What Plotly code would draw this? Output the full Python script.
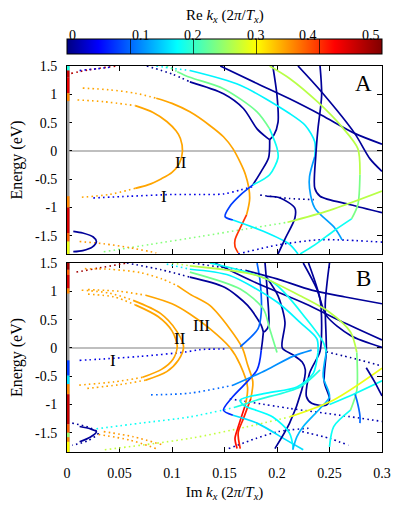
import plotly.graph_objects as go
from plotly.colors import sample_colorscale

# colour = Re k_x (2pi/Tx), 0 .. 0.5 on a jet scale
REK_MAX = 0.5
cbar_ticks = [0, 0.1, 0.2, 0.3, 0.4, 0.5]
x_ticks = [0, 0.05, 0.1, 0.15, 0.2, 0.25, 0.3]
e_ticks = [-1.5, -1, -0.5, 0, 0.5, 1, 1.5]
e_tick_text = ["-1.5", "-1", "-0.5", "0", "0.5", "1", "1.5"]

# real bands on the Im k = 0 axis: (E top, E bottom, Re k)
a_real = [(1.5, 1.42, 0.19), (1.42, 1.3, 0.46), (1.3, 1.02, 0.44), (1.02, 0.88, 0.36),
          (-0.8, -1.0, 0.36), (-1.0, -1.45, 0.45), (-1.45, -1.6, 0.38), (-1.6, -1.82, 0.29)]
b_real = [(1.5, 1.38, 0.48), (1.38, 1.29, 0.38), (1.29, 1.05, 0.45), (1.05, 0.96, 0.36),
          (-0.22, -0.49, 0.08), (-0.49, -0.64, 0.16), (-0.64, -0.82, 0.36), (-0.82, -1.35, 0.46),
          (-1.35, -1.5, 0.38), (-1.5, -1.58, 0.25), (-1.58, -1.66, 0.36), (-1.66, -1.84, 0.3)]

# complex bands: (Re k, Im k list, E list)
# panel A, solid
a_or_outer = (0.344, [0.085, 0.1, 0.117, 0.136, 0.149, 0.158, 0.17, 0.174, 0.171], [0.93, 0.84, 0.69, 0.45, 0.25, 0.04, -0.42, -0.83, -1.13])
a_or_outer_red = (0.4, [0.171, 0.165, 0.16, 0.16, 0.163], [-1.13, -1.36, -1.57, -1.69, -1.8])
a_or_II = (0.344, [0.065, 0.082, 0.095, 0.104, 0.108, 0.11, 0.107, 0.1, 0.09, 0.077, 0.065], [0.8, 0.68, 0.52, 0.35, 0.22, 0.0, -0.22, -0.38, -0.49, -0.6, -0.66])
a_n1 = (0.01, [0.117, 0.149, 0.168, 0.181, 0.19, 0.193], [1.22, 1.01, 0.75, 0.39, 0.24, 0.2])
a_n1_low = (0.01, [0.193, 0.192, 0.185, 0.177], [0.2, -0.12, -0.36, -0.6])
a_n2 = (0.01, [0.196, 0.2, 0.201, 0.197, 0.193], [1.5, 0.98, 0.51, 0.28, 0.2])
a_c1 = (0.17, [0.117, 0.165, 0.212, 0.227, 0.236, 0.236], [1.42, 1.16, 0.66, 0.45, 0.16, -0.1])
a_c1_low = (0.128, [0.236, 0.231, 0.231, 0.236, 0.255, 0.262], [-0.1, -0.45, -0.66, -1.01, -1.36, -1.57])
a_g2 = (0.23, [0.105, 0.117, 0.149, 0.181, 0.193], [1.4, 1.3, 1.1, 0.69, 0.39])
a_g2_low = (0.18, [0.193, 0.2, 0.201, 0.193, 0.177], [0.39, 0.05, -0.12, -0.42, -0.6])
a_hook = (0.08, [0.177, 0.165, 0.155, 0.1505, 0.158], [-0.6, -0.78, -0.98, -1.16, -1.22])
a_hook_tail = (0.17, [0.158, 0.187, 0.212, 0.22], [-1.22, -1.42, -1.65, -1.82])
a_n3 = (0.01, [0.146, 0.181, 0.212, 0.2425, 0.274, 0.3], [1.5, 1.19, 0.92, 0.63, 0.31, 0.12])
a_n5 = (0.01, [0.22, 0.2425, 0.274, 0.2886, 0.3], [1.5, 1.04, 0.31, -0.14, -0.36])
a_n4 = (0.01, [0.241, 0.2425, 0.239, 0.237, 0.236, 0.241, 0.27, 0.3], [1.5, 0.98, 0.39, -0.07, -0.66, -0.8, -0.95, -1.09])
a_g1 = (0.265, [0.193, 0.212, 0.239, 0.262, 0.277, 0.279], [1.5, 1.28, 0.86, 0.42, 0.04, -0.42])
a_g1_mid = (0.235, [0.279, 0.277, 0.271], [-0.42, -0.95, -1.2])
a_g1_low = (0.18, [0.271, 0.255, 0.236, 0.222], [-1.2, -1.4, -1.66, -1.82])
a_n6 = (0.01, [0.19, 0.203, 0.217, 0.217, 0.208, 0.201], [-0.8, -0.83, -1.01, -1.19, -1.54, -1.82])
a_g3 = (0.265, [0.21, 0.25, 0.3], [-1.26, -1.05, -0.71])
a_loop = (0.01, [0.006, 0.015, 0.025, 0.028, 0.024, 0.015, 0.006], [-1.42, -1.45, -1.52, -1.6, -1.7, -1.76, -1.78])

# panel A, dotted
a_red_top = (0.47, [0.004, 0.02, 0.047], [1.37, 1.43, 1.5])
a_blue_top = (0.04, [0.012, 0.028, 0.042], [1.42, 1.45, 1.48])
a_n1_dot = (0.01, [0.076, 0.1, 0.117], [1.5, 1.36, 1.22])
a_c1_dot = (0.17, [0.085, 0.1, 0.117], [1.5, 1.46, 1.42])
a_g2_dot = (0.23, [0.095, 0.105], [1.5, 1.4])
a_or_outer_dot = (0.344, [0.015, 0.04, 0.065, 0.085], [1.11, 1.08, 1.02, 0.93])
a_or_II_top = (0.344, [0.01, 0.035, 0.065], [0.9, 0.87, 0.8])
a_or_II_bot = (0.344, [0.065, 0.04, 0.012], [-0.66, -0.77, -0.82])
a_line_I = (0.04, [0.025, 0.06, 0.1, 0.127, 0.149, 0.165, 0.177], [-0.83, -0.8, -0.77, -0.77, -0.76, -0.69, -0.63])
a_n4_dot = (0.01, [0.184, 0.212, 0.235], [-0.78, -0.84, -0.86])
a_bottom = (0.03, [0.163, 0.201, 0.239, 0.258, 0.3], [-1.82, -1.66, -1.57, -1.57, -1.61])
a_g3_dot = (0.24, [0.035, 0.08, 0.127, 0.17, 0.21], [-1.78, -1.65, -1.51, -1.38, -1.26])
a_or_low = (0.35, [0.012, 0.035, 0.06, 0.085], [-1.6, -1.64, -1.71, -1.8])

# panel B, solid
b_or_outer = (0.344, [0.105, 0.117, 0.136, 0.155, 0.167, 0.172, 0.177, 0.175], [1.1, 0.95, 0.75, 0.34, 0.0, -0.3, -0.6, -0.9])
b_or_outer_red = (0.41, [0.175, 0.168, 0.163, 0.165], [-0.9, -1.25, -1.5, -1.78])
b_or_III = (0.344, [0.075, 0.1, 0.117, 0.136, 0.155, 0.165, 0.172, 0.17], [0.93, 0.78, 0.6, 0.34, 0.01, -0.3, -0.7, -1.0])
b_or_III_red = (0.42, [0.17, 0.163, 0.16, 0.162], [-1.0, -1.4, -1.6, -1.78])
b_or_II1 = (0.344, [0.063, 0.089, 0.104, 0.111, 0.106, 0.095, 0.075], [0.84, 0.61, 0.31, 0.02, -0.22, -0.42, -0.57])
b_or_II2 = (0.344, [0.065, 0.087, 0.1, 0.105, 0.101, 0.09, 0.072], [0.76, 0.55, 0.3, 0.03, -0.2, -0.38, -0.52])
b_n1 = (0.01, [0.117, 0.15, 0.172, 0.185, 0.187], [1.25, 1.07, 0.75, 0.4, 0.28])
b_n2 = (0.01, [0.1886, 0.191, 0.192, 0.189, 0.187], [1.5, 0.92, 0.39, 0.3, 0.28])
b_n1_low = (0.01, [0.187, 0.186, 0.185], [0.28, 0.1, -0.04])
b_hook = (0.07, [0.185, 0.181, 0.158, 0.149, 0.158], [-0.04, -0.39, -0.86, -1.1, -1.19])
b_hook_tail = (0.16, [0.158, 0.181, 0.209, 0.225], [-1.19, -1.33, -1.63, -1.8])
b_blue_v = (0.1, [0.181, 0.184, 0.185, 0.182, 0.165], [1.5, 1.16, 0.63, 0.34, 0.02])
b_n3 = (0.01, [0.141, 0.18, 0.227, 0.26, 0.3], [1.5, 1.15, 0.78, 0.48, 0.14])
b_n8 = (0.01, [0.17, 0.2, 0.233, 0.265, 0.3], [1.37, 1.22, 1.02, 0.9, 0.78])
b_n5a = (0.01, [0.225, 0.238, 0.247, 0.27, 0.3], [1.5, 1.04, 0.57, 0.22, 0.01])
b_u = (0.01, [0.23, 0.241, 0.2425, 0.241, 0.231, 0.228, 0.233, 0.247, 0.25, 0.245, 0.247, 0.246, 0.25],
       [1.5, 0.86, 0.34, -0.06, -0.45, -0.86, -0.98, -1.01, -0.9, -0.6, -0.04, 0.8, 1.5])
b_n7 = (0.01, [0.19, 0.201, 0.2076, 0.205, 0.215, 0.224, 0.227, 0.2235, 0.212, 0.198], [1.25, 0.92, 0.45, 0.0, -0.12, -0.25, -0.39, -0.75, -1.33, -1.78])
b_c1 = (0.17, [0.117, 0.155, 0.2, 0.222, 0.238, 0.239], [1.39, 1.28, 0.81, 0.45, 0.16, -0.08])
b_c1_low = (0.175, [0.239, 0.2345, 0.219, 0.19, 0.165, 0.168, 0.196, 0.212, 0.2155], [-0.08, -0.45, -0.69, -0.8, -0.92, -1.01, -1.22, -1.51, -1.78])
b_c2 = (0.18, [0.136, 0.196, 0.228, 0.244, 0.247], [1.5, 1.16, 0.51, 0.1, -0.08])
b_c2_low = (0.14, [0.247, 0.244, 0.25, 0.241, 0.225, 0.219, 0.215], [-0.08, -0.51, -0.86, -1.07, -1.39, -1.57, -1.8])
b_g2 = (0.23, [0.117, 0.165, 0.187, 0.193, 0.2], [1.34, 1.04, 0.69, 0.34, -0.08])
b_g1 = (0.265, [0.117, 0.181, 0.222, 0.25, 0.27, 0.276], [1.45, 1.28, 0.92, 0.63, 0.28, -0.08])
b_g1_mid = (0.235, [0.276, 0.276, 0.27], [-0.08, -0.75, -1.1])
b_g1_low = (0.18, [0.27, 0.254, 0.25], [-1.1, -1.39, -1.75])
b_blue_short = (0.1, [0.274, 0.276, 0.279, 0.279], [-0.8, -0.92, -1.2, -1.33])
b_bl = (0.12, [0.158, 0.19, 0.215, 0.233], [-0.66, -0.39, -0.15, -0.04])
b_cy = (0.19, [0.16, 0.181, 0.222, 0.241], [-1.05, -0.92, -0.69, -0.39])
b_cy2 = (0.18, [0.3, 0.275, 0.25], [-0.58, -0.8, -1.0])
b_yg = (0.29, [0.212, 0.254, 0.3], [-1.22, -0.92, -0.36])
b_n_right = (0.01, [0.285, 0.293, 0.3], [-0.35, -0.6, -0.85])
b_loop1 = (0.01, [0.012, 0.022, 0.028, 0.022, 0.012], [-1.39, -1.43, -1.48, -1.58, -1.66])

# panel B, dotted
b_red_top = (0.48, [0.009, 0.03, 0.057], [1.34, 1.41, 1.5])
b_or_top = (0.344, [0.017, 0.04, 0.07, 0.09, 0.105], [1.4, 1.39, 1.33, 1.22, 1.1])
b_or_III_dot = (0.344, [0.02, 0.05, 0.075], [1.03, 1.0, 0.93])
b_or_II1_top = (0.344, [0.014, 0.04, 0.063], [1.02, 0.97, 0.84])
b_or_II1_bot = (0.344, [0.075, 0.05, 0.017], [-0.57, -0.65, -0.72])
b_or_II2_top = (0.344, [0.02, 0.045, 0.065], [0.95, 0.9, 0.76])
b_or_II2_bot = (0.344, [0.072, 0.045, 0.01], [-0.52, -0.6, -0.66])
b_line_I = (0.04, [0.012, 0.031, 0.07, 0.114, 0.127, 0.153], [-0.22, -0.2, -0.15, -0.07, -0.03, -0.02])
b_n1_dot = (0.01, [0.057, 0.09, 0.117], [1.5, 1.38, 1.25])
b_n8_dot = (0.01, [0.12, 0.145, 0.17], [1.5, 1.43, 1.37])
b_g1_dot = (0.265, [0.1, 0.117], [1.5, 1.45])
b_c1_dot = (0.17, [0.095, 0.117], [1.48, 1.39])
b_bl_dot = (0.1, [0.08, 0.117, 0.158], [-0.83, -0.8, -0.66])
b_cy_dot = (0.18, [0.028, 0.07, 0.117, 0.16], [-1.43, -1.33, -1.22, -1.05])
b_yg_dot = (0.27, [0.036, 0.117, 0.17, 0.212], [-1.8, -1.6, -1.4, -1.22])
b_nd0 = (0.01, [0.247, 0.276, 0.3], [-0.07, -0.2, -0.32])
b_nd1 = (0.02, [0.154, 0.18, 0.201, 0.23], [-1.78, -1.6, -1.48, -1.42])
b_nd2 = (0.02, [0.155, 0.212, 0.26, 0.3], [-0.9, -1.07, -1.19, -1.3])
b_nd3 = (0.02, [0.224, 0.25, 0.268], [-1.48, -1.6, -1.72])
b_loop2 = (0.01, [0.005, 0.02, 0.03, 0.02, 0.005], [-1.33, -1.4, -1.5, -1.64, -1.72])
b_or_low1 = (0.35, [0.035, 0.063, 0.092], [-1.48, -1.57, -1.72])
b_or_low2 = (0.35, [0.03, 0.06, 0.085], [-1.53, -1.63, -1.78])

a_solid = [a_or_outer, a_or_outer_red, a_or_II, a_n1, a_n1_low, a_n2, a_c1, a_c1_low, a_g2, a_g2_low,
           a_hook, a_hook_tail, a_n3, a_n5, a_n4, a_g1, a_g1_mid, a_g1_low, a_n6, a_g3, a_loop]
a_dotted = [a_red_top, a_blue_top, a_n1_dot, a_c1_dot, a_g2_dot, a_or_outer_dot, a_or_II_top,
            a_or_II_bot, a_line_I, a_n4_dot, a_bottom, a_g3_dot, a_or_low]
b_solid = [b_or_outer, b_or_outer_red, b_or_III, b_or_III_red, b_or_II1, b_or_II2, b_n1, b_n2, b_n1_low,
           b_hook, b_hook_tail, b_blue_v, b_n3, b_n8, b_n5a, b_u, b_n7, b_c1, b_c1_low, b_c2, b_c2_low,
           b_g2, b_g1, b_g1_mid, b_g1_low, b_blue_short, b_bl, b_cy, b_cy2, b_yg, b_n_right, b_loop1]
b_dotted = [b_red_top, b_or_top, b_or_III_dot, b_or_II1_top, b_or_II1_bot, b_or_II2_top, b_or_II2_bot,
            b_line_I, b_n1_dot, b_n8_dot, b_g1_dot, b_c1_dot, b_bl_dot, b_cy_dot, b_yg_dot, b_nd0,
            b_nd1, b_nd2, b_nd3, b_loop2, b_or_low1, b_or_low2]

# jet scale as in the original colour bar
JET = [[0.0, "rgb(0,0,128)"], [0.1, "rgb(0,0,255)"], [0.35, "rgb(0,255,255)"],
       [0.6, "rgb(255,255,0)"], [0.85, "rgb(255,0,0)"], [1.0, "rgb(128,0,0)"]]


def rek_color(v):
    return sample_colorscale(JET, [v / REK_MAX])[0]


SERIF = "Liberation Serif, Times New Roman, serif"
fig = go.Figure()

for (xa, ya, real, solid, dotted) in [("x", "y", a_real, a_solid, a_dotted),
                                       ("x2", "y2", b_real, b_solid, b_dotted)]:
    for rek, xs, es in dotted:
        fig.add_trace(go.Scatter(x=xs, y=es, mode="lines", xaxis=xa, yaxis=ya,
                                 line=dict(color=rek_color(rek), width=1.6, dash="1.6px,3.2px",
                                           shape="spline", smoothing=0.8),
                                 showlegend=False, hoverinfo="skip"))
    for rek, xs, es in solid:
        fig.add_trace(go.Scatter(x=xs, y=es, mode="lines", xaxis=xa, yaxis=ya,
                                 line=dict(color=rek_color(rek), width=1.7,
                                           shape="spline", smoothing=0.8),
                                 showlegend=False, hoverinfo="skip"))
    # gray Im k = 0 axis and the real bands on it
    fig.add_trace(go.Scatter(x=[0, 0], y=[real[-1][1], 1.5], mode="lines", xaxis=xa, yaxis=ya,
                             line=dict(color="#999999", width=5),
                             showlegend=False, hoverinfo="skip"))
    for top, bot, rek in real:
        fig.add_trace(go.Scatter(x=[0, 0], y=[top, bot], mode="lines", xaxis=xa, yaxis=ya,
                                 line=dict(color=rek_color(rek), width=5),
                                 showlegend=False, hoverinfo="skip"))

# colour bar
fig.add_trace(go.Scatter(
    x=[0.1], y=[0], mode="markers", xaxis="x", yaxis="y", showlegend=False, hoverinfo="skip",
    marker=dict(color=[0], colorscale=JET, cmin=0, cmax=REK_MAX, opacity=0, size=1,
                showscale=True,
                colorbar=dict(orientation="h", x=0, xanchor="left", len=1, lenmode="fraction",
                              y=1.071, yanchor="top", thickness=15, xpad=0, ypad=0,
                              outlinewidth=1, outlinecolor="black",
                              tickvals=cbar_ticks[1:-1], ticks="inside", ticklen=15,
                              tickcolor="rgba(0,0,0,0.7)", showticklabels=False))))

for v in cbar_ticks:
    fig.add_annotation(x=v / REK_MAX, y=1.104, xref="paper", yref="paper", text=str(v),
                       showarrow=False, font=dict(family=SERIF, size=14, color="black"))
fig.add_annotation(x=0.5, y=1.158, xref="paper", yref="paper",
                   text="Re <i>k</i><sub><i>x</i></sub> (2<i>π</i>/<i>T</i><sub><i>x</i></sub>)",
                   showarrow=False, font=dict(family=SERIF, size=15, color="black"))

# labels inside panels
labels = [("x", "y", 0.282, 1.19, "A", 23), ("x", "y", 0.109, -0.2, "II", 17),
          ("x", "y", 0.092, -0.8, "I", 17),
          ("x2", "y2", 0.282, 1.22, "B", 23), ("x2", "y2", 0.108, 0.17, "II", 17),
          ("x2", "y2", 0.044, -0.22, "I", 17), ("x2", "y2", 0.128, 0.39, "III", 17)]
for xa, ya, lx, ly, txt, fs in labels:
    fig.add_annotation(x=lx, y=ly, xref=xa, yref=ya, text=txt, showarrow=False,
                       font=dict(family=SERIF, size=fs, color="black"))

for ya in ["y", "y2"]:
    fig.add_shape(type="line", xref="x domain" if ya == "y" else "x2 domain", yref=ya,
                  x0=0, x1=1, y0=0, y1=0, line=dict(color="#aaaaaa", width=1.5), layer="below")

axis_common = dict(showline=True, linecolor="black", linewidth=1, mirror="ticks", ticks="inside",
                   ticklen=5, tickcolor="black", showgrid=False, zeroline=False, automargin=False,
                   layer="below traces", tickfont=dict(family=SERIF, size=14, color="black"))

# the page body adds an 8 px margin, so the figure is 8 px smaller each way
fig.update_layout(
    width=391, height=498, margin=dict(l=59, r=17, t=58, b=54),
    paper_bgcolor="white", plot_bgcolor="white",
    font=dict(family=SERIF, size=14, color="black"),
    xaxis=dict(domain=[0, 1], range=[0, 0.3], anchor="y", tickvals=x_ticks,
               showticklabels=False, **axis_common),
    yaxis=dict(domain=[0.513, 1], range=[-1.82, 1.5], anchor="x", tickvals=e_ticks,
               ticktext=e_tick_text, ticklabelstandoff=6,
               title=dict(text="Energy (eV)", standoff=14, font=dict(family=SERIF, size=16)),
               **axis_common),
    xaxis2=dict(domain=[0, 1], range=[0, 0.3], anchor="y2", tickvals=x_ticks,
                ticktext=[str(v) for v in x_ticks], ticklabelstandoff=8,
                title=dict(text="Im <i>k</i><sub><i>x</i></sub> (2<i>π</i>/<i>T</i><sub><i>x</i></sub>)",
                           standoff=6, font=dict(family=SERIF, size=15)),
                **axis_common),
    yaxis2=dict(domain=[0, 0.4896], range=[-1.84, 1.5], anchor="x2", tickvals=e_ticks,
                ticktext=e_tick_text, ticklabelstandoff=6,
                title=dict(text="Energy (eV)", standoff=14, font=dict(family=SERIF, size=16)),
                **axis_common),
)

fig.write_html("out.html")
